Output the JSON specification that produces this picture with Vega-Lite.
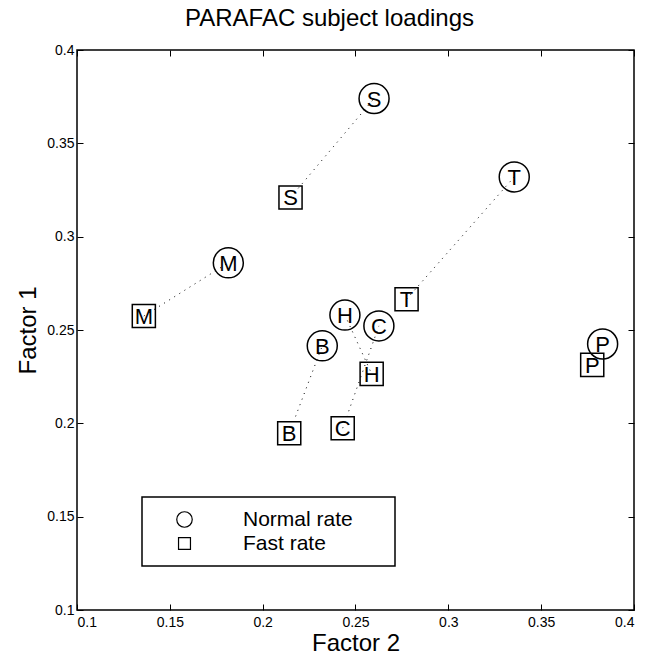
{
  "$schema": "https://vega.github.io/schema/vega-lite/v6.json",
  "width": 557,
  "height": 560,
  "autosize": {"type": "none"},
  "padding": {"left": 77, "top": 50, "right": 23, "bottom": 46},
  "background": "white",
  "title": {"text": "PARAFAC subject loadings", "fontSize": 24, "font": "Liberation Sans", "fontWeight": "normal", "color": "black", "dx": -26, "offset": 12},
  "config": {
    "view": {"stroke": "black", "strokeWidth": 1.5},
    "font": "Liberation Sans",
    "axis": {"grid": false, "domain": false, "tickColor": "black", "tickSize": -6, "tickWidth": 1, "labelColor": "black", "labelFontSize": 14, "labelFont": "Liberation Sans", "titleFont": "Liberation Sans", "titleFontSize": 24, "titleFontWeight": "normal", "titleColor": "black"},
    "legend": {"orient": "none", "legendX": 65, "legendY": 447, "strokeColor": "black", "strokeWidth": 1.5, "fillColor": "white", "padding": 12, "symbolOffset": 20, "labelOffset": 48, "labelFontSize": 21, "labelFont": "Liberation Sans", "labelColor": "black", "symbolStrokeColor": "black", "symbolFillColor": "transparent", "symbolStrokeWidth": 1.2, "symbolSize": 240, "rowPadding": 2, "labelLimit": 400}
  },
  "data": {"values": [
    {"subj": "S", "rate": "Normal rate", "f2": 0.260, "f1": 0.374},
    {"subj": "S", "rate": "Fast rate", "f2": 0.215, "f1": 0.321},
    {"subj": "T", "rate": "Normal rate", "f2": 0.3355, "f1": 0.332},
    {"subj": "T", "rate": "Fast rate", "f2": 0.2775, "f1": 0.2665},
    {"subj": "M", "rate": "Normal rate", "f2": 0.1815, "f1": 0.286},
    {"subj": "M", "rate": "Fast rate", "f2": 0.136, "f1": 0.2575},
    {"subj": "H", "rate": "Normal rate", "f2": 0.2443, "f1": 0.258},
    {"subj": "H", "rate": "Fast rate", "f2": 0.2587, "f1": 0.2265},
    {"subj": "C", "rate": "Normal rate", "f2": 0.2626, "f1": 0.2522},
    {"subj": "C", "rate": "Fast rate", "f2": 0.2431, "f1": 0.1974},
    {"subj": "B", "rate": "Normal rate", "f2": 0.2321, "f1": 0.2415},
    {"subj": "B", "rate": "Fast rate", "f2": 0.2143, "f1": 0.1947},
    {"subj": "P", "rate": "Normal rate", "f2": 0.3831, "f1": 0.2425},
    {"subj": "P", "rate": "Fast rate", "f2": 0.3775, "f1": 0.2313}
  ]},
  "resolve": {"axis": {"x": "independent", "y": "independent"}},
  "layer": [
    {
      "transform": [{"filter": "datum.subj != 'P'"}],
      "mark": {"type": "line", "color": "black", "strokeWidth": 1, "strokeDash": [1, 5]},
      "encoding": {
        "x": {"field": "f2", "type": "quantitative", "scale": {"domain": [0.1, 0.4], "nice": false, "zero": false},
              "axis": {"orient": "bottom", "values": [0.1, 0.15, 0.2, 0.25, 0.3, 0.35, 0.4], "format": "~g", "title": "Factor 2", "labelPadding": 11, "titlePadding": 2}},
        "y": {"field": "f1", "type": "quantitative", "scale": {"domain": [0.1, 0.4], "nice": false, "zero": false},
              "axis": {"orient": "left", "values": [0.1, 0.15, 0.2, 0.25, 0.3, 0.35, 0.4], "format": "~g", "title": "Factor 1", "labelPadding": 9, "titlePadding": 6}},
        "detail": {"field": "subj"}
      }
    },
    {
      "mark": {"type": "point", "filled": false, "color": "black", "strokeWidth": 1.5, "opacity": 1, "size": 900},
      "encoding": {
        "x": {"field": "f2", "type": "quantitative", "axis": null},
        "y": {"field": "f1", "type": "quantitative", "axis": null},
        "shape": {"field": "rate", "type": "nominal",
                  "scale": {"domain": ["Normal rate", "Fast rate"], "range": ["M-1,0A1,1 0 1,1 1,0A1,1 0 1,1 -1,0Z", "M-0.77,-0.77H0.77V0.77H-0.77Z"]},
                  "legend": {"title": null, "labelExpr": "datum.label + '\u2800\u2800'"}}
      }
    },
    {
      "mark": {"type": "text", "fontSize": 22, "font": "Liberation Sans", "color": "black", "baseline": "middle", "align": "center", "dy": 1},
      "encoding": {
        "x": {"field": "f2", "type": "quantitative", "axis": null},
        "y": {"field": "f1", "type": "quantitative", "axis": null},
        "text": {"field": "subj"}
      }
    },
    {
      "mark": {"type": "point", "opacity": 0},
      "encoding": {
        "x": {"field": "f2", "type": "quantitative", "axis": {"orient": "top", "values": [0.1, 0.15, 0.2, 0.25, 0.3, 0.35, 0.4], "labels": false, "title": null}},
        "y": {"field": "f1", "type": "quantitative", "axis": {"orient": "right", "values": [0.1, 0.15, 0.2, 0.25, 0.3, 0.35, 0.4], "labels": false, "title": null}}
      }
    }
  ]
}
